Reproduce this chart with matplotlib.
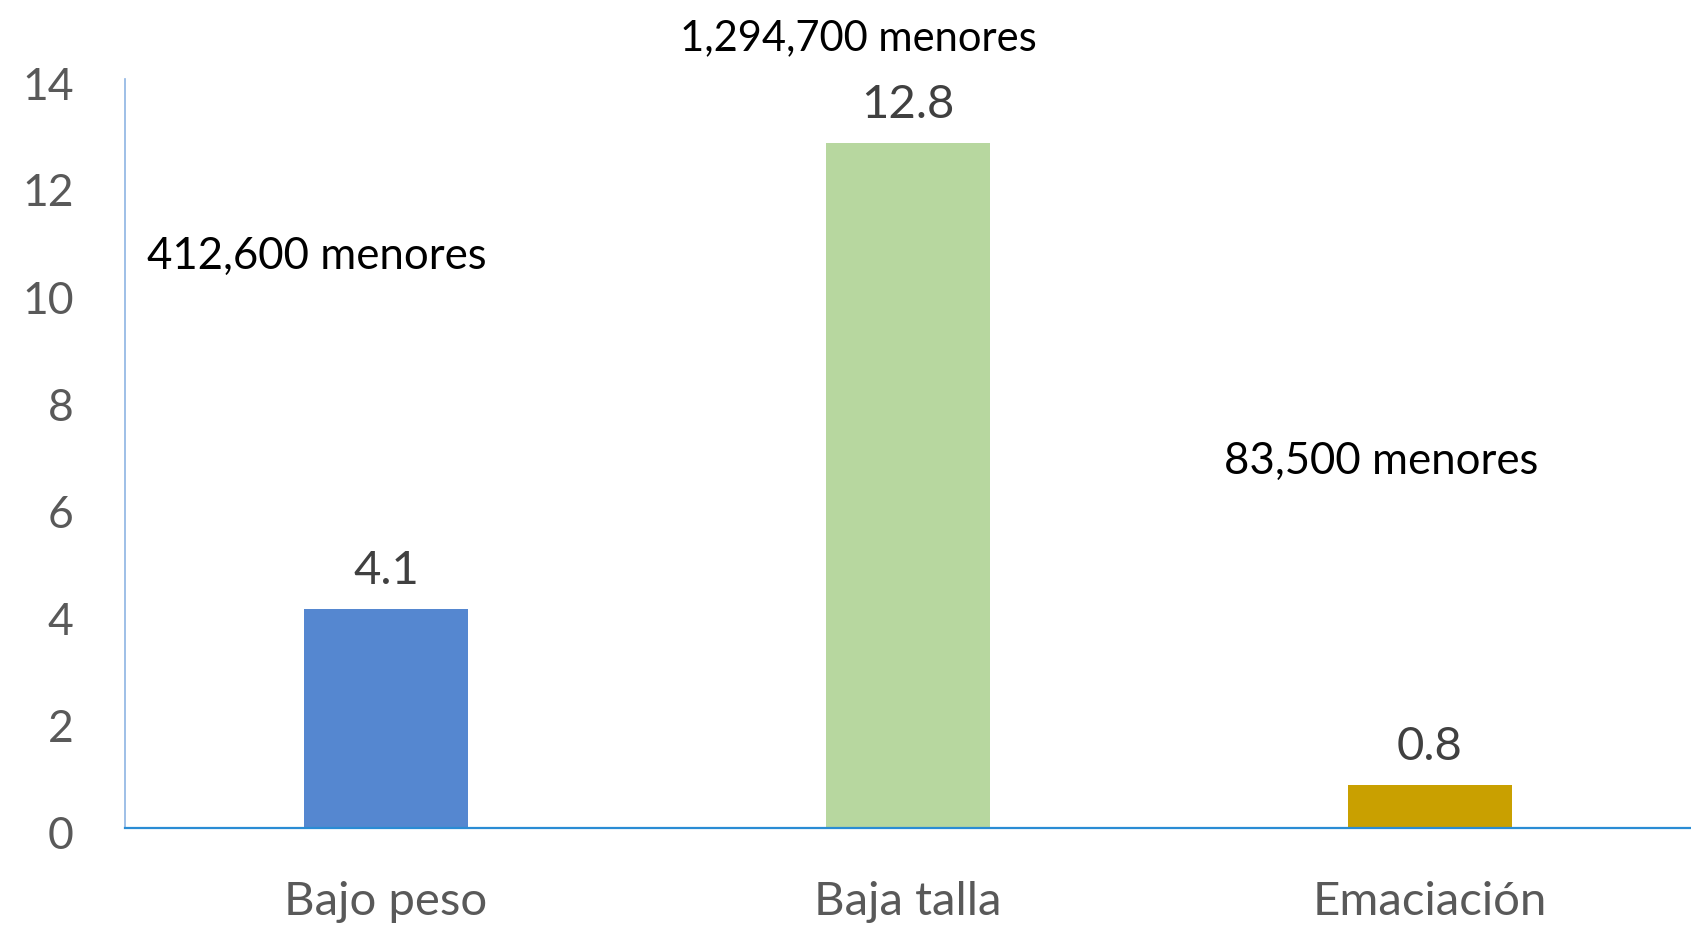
import matplotlib.pyplot as plt
from matplotlib.transforms import ScaledTranslation

plt.rcParams['font.family'] = ['Lato', 'DejaVu Sans']

categories = ['Bajo peso', 'Baja talla', 'Emaciación']
values = [4.1, 12.8, 0.8]
bar_colors = ['#5587D0', '#B7D79F', '#C9A000']
note_texts = ['412,600 menores', '1,294,700 menores', '83,500 menores']
note_x = [-0.132, 0.904, 1.907]
note_y = [10.45, 14.54, 6.62]
note_sizes = [31.5, 30, 31.5]
y_ticks = [0, 2, 4, 6, 8, 10, 12, 14]

W, H = 1691, 930
fig = plt.figure(figsize=(W / 100, H / 100), dpi=100)
ax = fig.add_axes([125 / W, 1 - 828 / H, 1566 / W, 749 / H])

x = list(range(len(categories)))
bars = ax.bar(x, values, width=0.316, color=bar_colors, zorder=2)

ax.set_xlim(-0.5, 2.5)
ax.set_ylim(0, 14)
ax.set_yticks(y_ticks)
ax.set_yticklabels([str(t) for t in y_ticks], fontsize=32, color='#595959')
ax.set_xticks(x)
ax.set_xticklabels(categories, fontsize=34, color='#595959')
ax.tick_params(axis='y', length=0, pad=37)
ax.tick_params(axis='x', length=0, pad=38)

# nudge y labels down a little, like the original
shift = ScaledTranslation(0, -4 / 100, fig.dpi_scale_trans)
for lab in ax.get_yticklabels():
    lab.set_transform(lab.get_transform() + shift)

for s in ['top', 'right']:
    ax.spines[s].set_visible(False)
ax.spines['left'].set_color('#8EB4E3')
ax.spines['left'].set_linewidth(1.2)
ax.spines['bottom'].set_color('#2A8CD4')
ax.spines['bottom'].set_linewidth(1.6)
ax.spines['bottom'].set_zorder(3)

# value labels above bars
for b, v in zip(bars, values):
    ax.annotate(f'{v}', (b.get_x() + b.get_width() / 2, v),
                xytext=(0, 18), textcoords='offset points',
                ha='center', va='baseline', fontsize=34, color='#404040')

# counts of children
for t, nx, ny, fs in zip(note_texts, note_x, note_y, note_sizes):
    ax.text(nx, ny, t, ha='center', va='baseline', fontsize=fs,
            color='black', clip_on=False)

fig.savefig('out.png', dpi=100)
